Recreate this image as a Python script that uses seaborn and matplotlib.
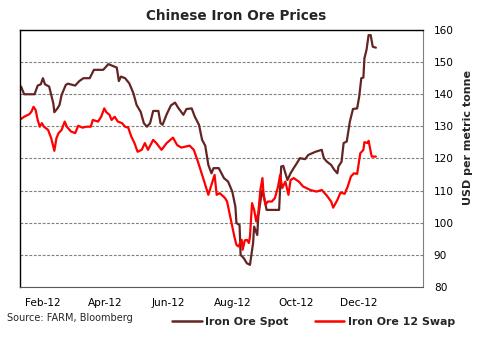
import numpy as np
import pandas as pd
import matplotlib
matplotlib.use("Agg")
import matplotlib.pyplot as plt
import matplotlib.dates as mdates
from matplotlib.lines import Line2D
import seaborn as sns

# ---- data (days since 2012-01-01, USD per metric tonne) ----
spot_days = [10, 13, 23, 26, 29, 31, 33, 37, 39, 41, 42, 45, 47, 49, 53, 55, 62, 66, 70, 76,
             80, 89, 94, 96, 102, 104, 106, 110, 114, 118, 121, 125, 128, 131, 134, 137, 142, 144, 146, 150,
             154, 158, 161, 166, 169, 174, 177, 181, 184, 187, 190, 193, 195, 200, 205, 209,
             213, 216, 217, 220, 221, 224, 227, 230, 233, 234, 237, 238, 240, 242, 244, 246, 258, 260,
             262, 266, 269, 272, 275, 278, 283, 286, 293, 299, 301, 304, 308, 311, 314, 315, 318, 320,
             323, 326, 329, 333, 335, 337, 339, 340, 342, 344, 346, 348, 351]
spot_vals = [142.4, 140.0, 140.0, 142.7, 143.1, 145.0, 143.1, 142.4, 139.8, 137.2, 134.4, 135.6, 136.7, 139.8,
             142.9, 143.3, 142.7, 144.1, 145.0, 145.0, 147.6, 147.6, 149.4, 149.1, 148.3, 144.1, 145.5, 145.0,
             143.4, 140.3, 136.7, 134.5, 131.0, 129.9, 131.0, 134.8, 134.8, 131.0, 130.5, 133.8, 136.5, 137.4,
             135.8, 133.6, 135.4, 135.6, 133.0, 130.5, 125.8, 124.0, 118.0, 115.4, 117.0, 117.0, 113.9, 112.8,
             109.7, 105.0, 99.9, 99.3, 90.0, 89.0, 87.4, 86.9, 93.7, 98.8, 96.2, 101.9, 106.6, 110.2, 107.1,
             104.0, 104.0, 117.5, 117.7, 113.3, 115.4, 117.0, 118.5, 120.1, 119.8, 121.1, 122.1, 122.7, 120.1,
             119.0, 118.0, 116.5, 115.4, 117.5, 119.0, 124.8, 125.3, 131.5, 135.4, 135.6, 139.3, 145.0, 145.2,
             151.2, 153.8, 158.4, 158.4, 154.8, 154.5]

swap_days = [10, 13, 18, 20, 22, 24, 26, 28, 30, 32, 36, 39, 42, 44, 46, 49, 52, 54, 58, 62,
             65, 69, 73, 77, 79, 84, 87, 90, 92, 95, 97, 100, 103, 107, 110, 113, 116, 119, 122, 126,
             129, 132, 137, 140, 145, 150, 156, 160, 164, 172, 176, 180, 185, 190, 192, 196, 198, 201,
             206, 208, 212, 215, 217, 219, 222, 223, 225, 227, 229, 230, 232, 234, 236, 238, 240, 242,
             243, 245, 247, 251, 254, 257, 259, 261, 264, 267, 269, 272, 277, 281, 288, 294, 299, 304,
             308, 310, 314, 317, 321, 324, 327, 330, 333, 336, 339, 340, 343, 344, 347, 351]
swap_vals = [132.3, 133.0, 133.8, 134.6, 136.1, 135.1, 132.0, 129.9, 131.0, 129.9, 128.9, 126.3, 122.4, 126.3,
             127.9, 128.9, 131.5, 129.9, 128.4, 127.9, 130.2, 129.6, 129.9, 129.9, 132.0, 131.5, 133.0, 135.6,
             134.4, 133.6, 132.0, 133.0, 131.5, 131.0, 129.9, 129.6, 126.8, 124.8, 122.1, 122.7, 124.8, 122.7,
             125.8, 124.8, 122.7, 124.8, 126.5, 124.2, 123.4, 124.0, 122.7, 119.0, 113.9, 108.7, 110.8, 114.9,
             108.7, 109.2, 107.7, 106.6, 100.4, 95.7, 93.1, 92.6, 94.7, 91.6, 94.5, 94.7, 93.7, 95.7, 106.1,
             104.0, 100.4, 103.0, 110.2, 113.9, 109.2, 105.6, 106.6, 106.6, 107.7, 111.3, 114.9, 110.8, 112.8,
             108.7, 113.3, 113.9, 112.8, 111.3, 110.2, 109.7, 110.2, 108.4, 106.6, 104.7, 107.1, 109.4, 109.0,
             111.3, 114.4, 115.4, 115.2, 121.6, 122.7, 125.1, 124.8, 125.5, 120.6, 120.6]

series_names = ["Iron Ore Spot", "Iron Ore 12 Swap"]
series_colors = ["#632523", "#FF0000"]
y_ticks = [80, 90, 100, 110, 120, 130, 140, 150, 160]
x_tick_dates = ["2012-02-01", "2012-04-01", "2012-06-01", "2012-08-01", "2012-10-01", "2012-12-01"]

title = "Chinese Iron Ore Prices"
y_label = "USD per metric tonne"
source = "Source: FARM, Bloomberg"

base = pd.Timestamp("2012-01-01")
df = pd.concat([
    pd.DataFrame({"date": base + pd.to_timedelta(spot_days, unit="D"), "price": spot_vals,
                  "series": series_names[0]}),
    pd.DataFrame({"date": base + pd.to_timedelta(swap_days, unit="D"), "price": swap_vals,
                  "series": series_names[1]}),
])

sns.set_style("white")
plt.rcParams["font.family"] = ["DejaVu Sans"]

fig = plt.figure(figsize=(4.8, 3.39), dpi=100)
ax = fig.add_axes([20 / 480, 1 - 287 / 339, (422.7 - 20) / 480, (287 - 30) / 339])

sns.lineplot(data=df, x="date", y="price", hue="series", palette=series_colors,
             hue_order=series_names, estimator=None, sort=False, linewidth=1.6,
             legend=False, ax=ax)

ax.set_xlim(base + pd.Timedelta(days=9), base + pd.Timedelta(days=396))
ax.set_ylim(80, 160)
ax.set_yticks(y_ticks)
ax.yaxis.tick_right()
ax.yaxis.set_label_position("right")
ax.set_xticks(pd.to_datetime(x_tick_dates))
ax.xaxis.set_major_formatter(mdates.DateFormatter("%b-%y"))
ax.tick_params(axis="both", length=0, labelsize=7.6, colors="black")
ax.tick_params(axis="y", pad=8)
ax.tick_params(axis="x", pad=8)
ax.set_xlabel("")
ax.set_ylabel(y_label, fontsize=8.0, fontweight="bold", rotation=90, va="center", ha="center")
ax.yaxis.set_label_coords((468 - 20) / 402.7, (287 - 138) / 257)

ax.grid(axis="y", color="#7f7f7f", linestyle=(0, (2.5, 1.5)), linewidth=0.8)
ax.grid(axis="x", visible=False)

for side in ["left", "top"]:
    ax.spines[side].set_color("black")
    ax.spines[side].set_linewidth(1.0)
ax.spines["right"].set_color("#808080")
ax.spines["bottom"].set_color("#595959")

fig.text(236.5 / 480, 1 - 16.5 / 339, title, ha="center", va="center", fontsize=9.8,
         fontweight="bold")
fig.text(7 / 480, 1 - 318 / 339, source, ha="left", va="center", fontsize=7.0)

handles = [Line2D([0], [0], color=c, linewidth=1.8) for c in series_colors]
fig.legend(handles, series_names, loc="center", bbox_to_anchor=(313.5 / 480, 1 - 322 / 339),
           ncol=2, frameon=False, handlelength=2.7, handletextpad=0.3, columnspacing=2.4,
           prop={"weight": "bold", "size": 7.9})

fig.savefig("out.png", dpi=100)
